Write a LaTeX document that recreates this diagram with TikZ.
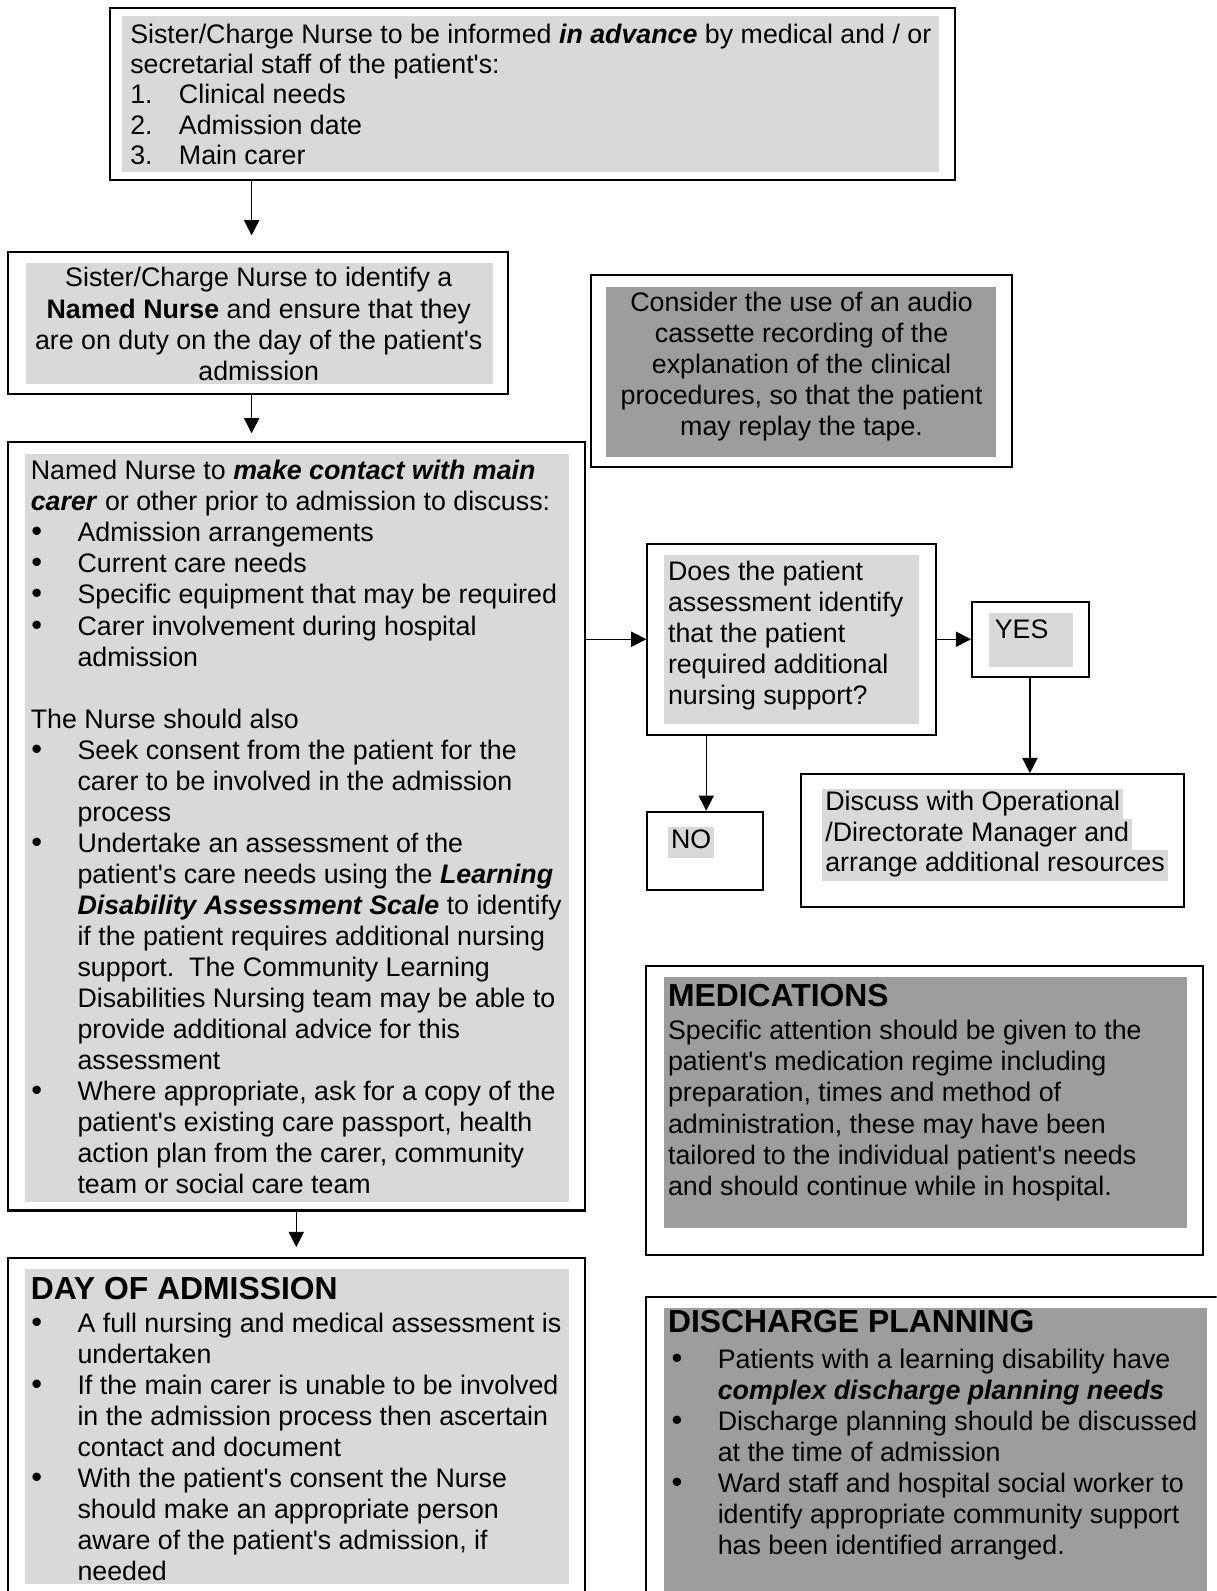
\documentclass[tikz,border=0pt]{standalone}
\usepackage{fontspec}
\setmainfont{Liberation Sans}
\usetikzlibrary{arrows.meta,fit}
\definecolor{lg}{RGB}{217,217,217}
\definecolor{dg}{RGB}{157,157,157}
\newcommand{\ap}{\XeTeXglyph\XeTeXcharglyph"27\relax}
\newcommand{\bl}{\makebox[23pt][l]{\hspace{0.3pt}\scalebox{1.15}{\textbullet}}}
\newcommand{\cl}{\hspace*{23pt}}
\newcommand{\fs}{\fontsize{13.2}{15.3}\selectfont}
\newcommand{\fh}{\fontsize{15.7}{18}\selectfont\bfseries}
\newcommand{\bi}[1]{\textbf{\textit{#1}}}
\tikzset{
  frame/.style={draw=black, line width=1pt, inner sep=0pt},
  light/.style={fill=lg, inner sep=0pt},
  dark/.style={fill=dg, inner sep=0pt},
  txt/.style={anchor=north west, inner sep=0pt, align=left, font=\fs},
  ctxt/.style={anchor=north, inner sep=0pt, align=center, font=\fs},
  hd/.style={anchor=base west, inner sep=0pt, font=\fh},
  hl/.style={anchor=base west, fill=lg, inner xsep=1.5pt, inner ysep=0pt, text height=10.7pt, text depth=4.6pt, font=\fs},
  arr/.style={-{Triangle[length=7.5pt,width=7.5pt]}, line width=0.7pt},
}
\begin{document}
\begin{tikzpicture}[x=0.5pt,y=-0.5pt]
\useasboundingbox (0,0) rectangle (1199,1568);
\clip (0,0) rectangle (1199,1568);
% ---------- box 1
\node[frame, fit={(108,8) (941,177)}] (b1) {};
\node[light, fit={(120,16) (925,170)}] (b1g) {};
\node[txt, font=\fontsize{13.2}{15}\selectfont] (t1) at (128,21) {\strut Sister/Charge Nurse to be informed \bi{in advance} by medical and / or\\
secretarial staff of the patient\ap s:\\
\makebox[24pt][l]{1.}Clinical needs\\
\makebox[24pt][l]{2.}Admission date\\
\makebox[24pt][l]{3.}Main carer};
% ---------- box 2
\node[frame, fit={(8,248) (501,388)}] (b2) {};
\node[light, fit={(26,259) (486,378)}] (b2g) {};
\node[ctxt] (t2) at (255,261) {\strut Sister/Charge Nurse to identify a\\
\textbf{Named Nurse} and ensure that they\\
are on duty on the day of the patient\ap s\\
admission};
% ---------- box 3 (audio)
\node[frame, fit={(582,271) (997,460)}] (b3) {};
\node[dark, fit={(597,283) (982,450)}] (b3g) {};
\node[ctxt] (t3) at (790,285) {\strut Consider the use of an audio\\
cassette recording of the\\
explanation of the clinical\\
procedures, so that the patient\\
may replay the tape.};
% ---------- box 4
\node[frame, fit={(8,436) (577,1193)}] (b4) {};
\node[light, fit={(25,447) (561,1185)}] (b4g) {};
\node[txt] (t4) at (30,451) {\strut Named Nurse to \bi{make contact with main}\\
\bi{carer} or other prior to admission to discuss:\\
\bl Admission arrangements\\
\bl Current care needs\\
\bl Specific equipment that may be required\\
\bl Carer involvement during hospital\\
\cl admission\\
\strut\\
The Nurse should also\\
\bl Seek consent from the patient for the\\
\cl carer to be involved in the admission\\
\cl process\\
\bl Undertake an assessment of the\\
\cl patient\ap s care needs using the \bi{Learning}\\
\cl \bi{Disability Assessment Scale} to identify\\
\cl if the patient requires additional nursing\\
\cl support.\ \ The Community Learning\\
\cl Disabilities Nursing team may be able to\\
\cl provide additional advice for this\\
\cl assessment\\
\bl Where appropriate, ask for a copy of the\\
\cl patient\ap s existing care passport, health\\
\cl action plan from the carer, community\\
\cl team or social care team};
% ---------- decision
\node[frame, fit={(638,536) (922,724)}] (dec) {};
\node[light, fit={(654,547) (906,714)}] (decg) {};
\node[txt] (t5) at (658,550) {\strut Does the patient\\
assessment identify\\
that the patient\\
required additional\\
nursing support?};
% ---------- yes
\node[frame, fit={(958,593) (1073,667)}] (yes) {};
\node[light, fit={(975,604) (1057,657)}] (yesg) {};
\node[txt] (t6) at (980,607) {\strut YES};
% ---------- discuss
\node[frame, fit={(789,763) (1167,894)}] (disc) {};
\node[hl] (d1) at (810,799) {Discuss with Operational};
\node[hl] (d2) at (810,829) {/Directorate Manager and};
\node[hl] (d3) at (810,859) {arrange additional resources};
% ---------- no
\node[frame, fit={(638,800) (752,877)}] (no) {};
\node[hl] (t7) at (658,836) {NO};
% ---------- medications
\node[frame, fit={(637,952) (1186,1237)}] (med) {};
\node[dark, fit={(654,963) (1170,1210)}] (medg) {};
\node[hd] (h1) at (658,992) {MEDICATIONS};
\node[txt] (t8) at (658,1003) {\strut Specific attention should be given to the\\
patient\ap s medication regime including\\
preparation, times and method of\\
administration, these may have been\\
tailored to the individual patient\ap s needs\\
and should continue while in hospital.};
% ---------- day of admission
\node[frame, fit={(8,1240) (577,1620)}] (day) {};
\node[light, fit={(25,1251) (561,1561)}] (dayg) {};
\node[hd] (h2) at (30,1281) {DAY OF ADMISSION};
\node[txt] (t9) at (30,1291) {\strut\bl A full nursing and medical assessment is\\
\cl undertaken\\
\bl If the main carer is unable to be involved\\
\cl in the admission process then ascertain\\
\cl contact and document\\
\bl With the patient\ap s consent the Nurse\\
\cl should make an appropriate person\\
\cl aware of the patient\ap s admission, if\\
\cl needed};
% ---------- discharge planning
\node[frame, fit={(637,1278) (1260,1620)}] (dis) {};
\node[dark, fit={(654,1289) (1190,1600)}] (disg) {};
\node[hd] (h3) at (658,1313) {DISCHARGE PLANNING};
\node[txt] (t10) at (661,1327) {\strut\bl Patients with a learning disability have\\
\cl \bi{complex discharge planning needs}\\
\bl Discharge planning should be discussed\\
\cl at the time of admission\\
\bl Ward staff and hospital social worker to\\
\cl identify appropriate community support\\
\cl has been identified arranged.};
% ---------- connectors
\coordinate (ca) at (248,0);
\coordinate (cb) at (292,0);
\coordinate (cr) at (0,630);
\coordinate (cy) at (1015,0);
\coordinate (cn) at (696,0);
\draw[arr, shorten >=7.5pt] (b1.south -| ca) -- (b2.north -| ca);
\draw[arr, shorten >=4pt] (b2.south -| ca) -- (b4.north -| ca);
\draw[arr] (b4.east |- cr) -- (dec.west |- cr);
\draw[arr] (dec.east |- cr) -- (yes.west |- cr);
\draw[arr] (yes.south -| cy) -- (disc.north -| cy);
\draw[arr] (dec.south -| cn) -- (no.north -| cn);
\draw[arr, shorten >=5pt] (b4.south -| cb) -- (day.north -| cb);
\end{tikzpicture}
\end{document}
